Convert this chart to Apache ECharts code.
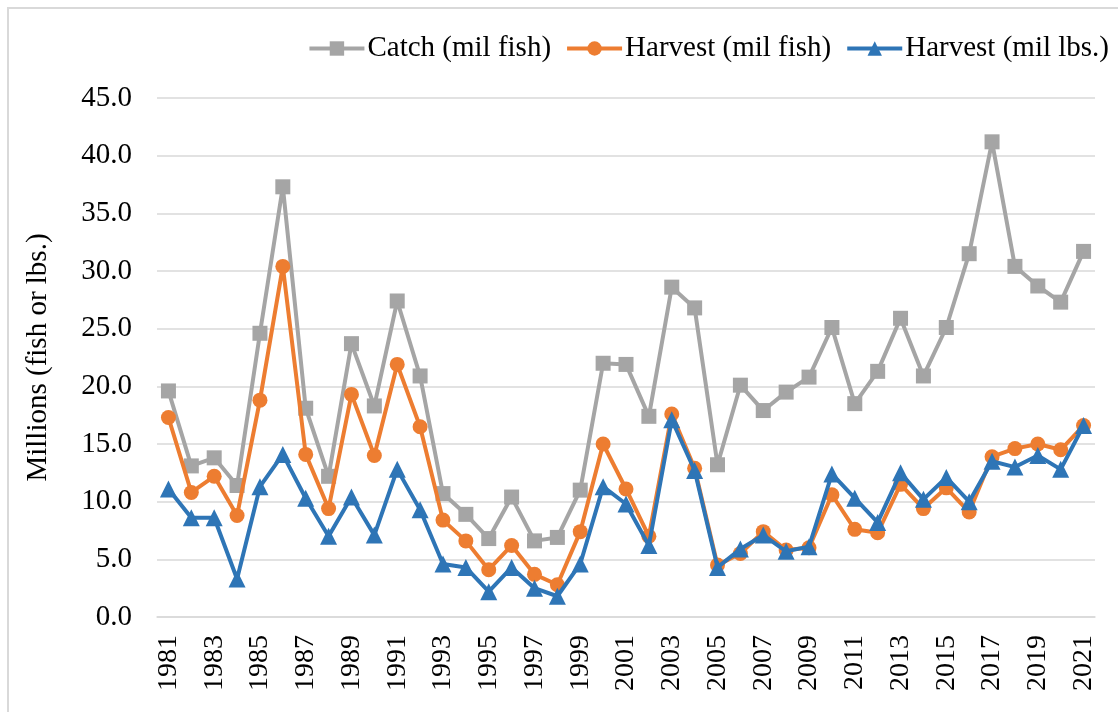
<!DOCTYPE html>
<html>
<head>
<meta charset="utf-8">
<script src="https://cdn.jsdelivr.net/npm/echarts@6/dist/echarts.min.js"></script>
<style>
  html, body { margin: 0; padding: 0; background: #fff; }
  #chart { width: 1118px; height: 712px; }
</style>
</head>
<body>
<div id="chart"></div>
<script>
(function() {
  var years = [];
  for (var y = 1981; y <= 2021; y++) years.push(String(y));

  var catchFish = [
    19.6, 13.1, 13.8, 11.4, 24.6, 37.3, 18.1, 12.2, 23.7, 18.3,
    27.4, 20.9, 10.7, 8.9, 6.8, 10.4, 6.6, 6.9, 11.0, 22.0,
    21.9, 17.4, 28.6, 26.8, 13.2, 20.1, 17.9, 19.5, 20.8, 25.1,
    18.5, 21.3, 25.9, 20.9, 25.1, 31.5, 41.2, 30.4, 28.7, 27.3,
    31.7
  ];
  var harvestFish = [
    17.3, 10.8, 12.2, 8.8, 18.8, 30.4, 14.1, 9.4, 19.3, 14.0,
    21.9, 16.5, 8.4, 6.6, 4.1, 6.2, 3.7, 2.8, 7.4, 15.0,
    11.1, 7.0, 17.6, 12.9, 4.5, 5.5, 7.4, 5.8, 6.0, 10.6,
    7.6, 7.3, 11.5, 9.4, 11.2, 9.1, 13.9, 14.6, 15.0, 14.5,
    16.6
  ];
  var harvestLbs = [
    11.1, 8.6, 8.6, 3.3, 11.3, 14.1, 10.3, 7.0, 10.4, 7.1,
    12.8, 9.3, 4.6, 4.3, 2.2, 4.3, 2.5, 1.8, 4.6, 11.3,
    9.8, 6.2, 17.1, 12.7, 4.3, 5.9, 7.1, 5.7, 6.1, 12.4,
    10.3, 8.2, 12.5, 10.2, 12.1, 10.0, 13.5, 13.0, 14.0, 12.8,
    16.6
  ];

  var font = '"Liberation Serif", "Times New Roman", serif';
  var ink = '#000000';
  var rule = '#D9D9D9';

  var chart = echarts.init(document.getElementById('chart'), null, { renderer: 'canvas' });

  chart.setOption({
    animation: false,
    backgroundColor: '#ffffff',
    graphic: [{
      type: 'rect',
      shape: { x: 8, y: 8, width: 1130, height: 730 },
      style: { fill: 'none', stroke: rule, lineWidth: 2 },
      silent: true
    }],
    legend: {
      right: 4,
      top: 29,
      itemWidth: 55,
      itemHeight: 18,
      itemGap: 14,
      lineStyle: { width: 4 },
      textStyle: { fontFamily: font, fontSize: 29, color: ink, padding: [0, 0, 0, -2] },
      data: ['Catch (mil fish)', 'Harvest (mil fish)', 'Harvest (mil lbs.)']
    },
    grid: { left: 157, right: 23, top: 98, bottom: 95, containLabel: false },
    xAxis: {
      type: 'category',
      data: years,
      boundaryGap: true,
      axisLine: { show: true, lineStyle: { color: rule, width: 1.5 } },
      axisTick: { show: false },
      axisLabel: {
        rotate: 90,
        interval: 1,
        margin: 18,
        fontFamily: font,
        fontSize: 28,
        color: ink
      },
      splitLine: { show: false }
    },
    yAxis: {
      type: 'value',
      min: 0,
      max: 45,
      interval: 5,
      name: 'Millions (fish or lbs.)',
      nameLocation: 'middle',
      nameGap: 104,
      nameTextStyle: { fontFamily: font, fontSize: 29, color: ink },
      axisLine: { show: false },
      axisTick: { show: false },
      axisLabel: {
        margin: 25,
        fontFamily: font,
        fontSize: 29,
        color: ink,
        formatter: function(v) { return v.toFixed(1); }
      },
      splitLine: { lineStyle: { color: rule, width: 1.5 } }
    },
    series: [
      {
        name: 'Catch (mil fish)',
        type: 'line',
        data: catchFish,
        symbol: 'rect',
        symbolSize: 15,
        showAllSymbol: true,
        lineStyle: { color: '#A5A5A5', width: 4 },
        itemStyle: { color: '#A5A5A5' },
        z: 2
      },
      {
        name: 'Harvest (mil fish)',
        type: 'line',
        data: harvestFish,
        symbol: 'circle',
        symbolSize: 15,
        showAllSymbol: true,
        lineStyle: { color: '#ED7D31', width: 4 },
        itemStyle: { color: '#ED7D31' },
        z: 3
      },
      {
        name: 'Harvest (mil lbs.)',
        type: 'line',
        data: harvestLbs,
        symbol: 'triangle',
        symbolSize: 17,
        showAllSymbol: true,
        lineStyle: { color: '#2E75B6', width: 4 },
        itemStyle: { color: '#2E75B6' },
        z: 4
      }
    ]
  });

  window.addEventListener('resize', function() { chart.resize(); });
})();
</script>
</body>
</html>
